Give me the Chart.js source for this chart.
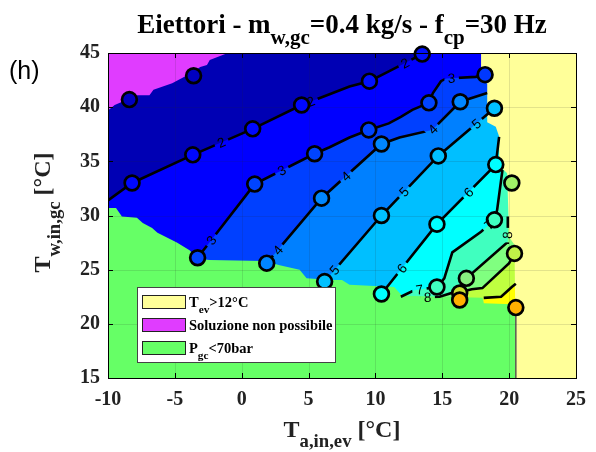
<!DOCTYPE html>
<html>
<head>
<meta charset="utf-8">
<script src="https://cdn.jsdelivr.net/npm/chart.js@4.4.0/dist/chart.umd.min.js"></script>
<style>
  body { margin: 0; background: #fff; }
</style>
</head>
<body>
<canvas id="chart" width="596" height="452"></canvas>
<script>
const X_MIN = -10, X_MAX = 25, Y_MIN = 15, Y_MAX = 45;
const xTicks = [-10, -5, 0, 5, 10, 15, 20, 25];
const yTicks = [15, 20, 25, 30, 35, 40, 45];

// iso-lines of the map, points are [T_a,in,ev, T_w,in,gc]
const iso2 = [[-10, 31.4], [-8.2, 33.0], [-3.66, 35.6], [0.82, 38.0], [4.48, 40.2], [6.57, 41.2], [8.06, 41.9], [9.55, 42.4], [11.0, 43.3], [13.5, 44.9], [13.7, 45]];
const iso3 = [[-3.3, 26.1], [0.97, 32.9], [5.45, 35.7], [6.57, 36.3], [8.06, 37.2], [9.5, 37.9], [11.0, 38.5], [11.9, 39.1], [12.76, 39.75], [14.0, 40.4], [14.3, 41.3], [14.9, 42.4], [15.3, 42.65], [17.5, 42.8], [18.2, 43.0]];
const iso4 = [[1.87, 25.6], [5.97, 31.6], [10.45, 36.6], [11.8, 37.2], [14.25, 37.9], [16.34, 40.5], [18.36, 41.3]];
const iso5 = [[6.2, 23.9], [10.45, 30.0], [14.7, 35.5], [18.9, 39.9]];
const iso6 = [[10.45, 22.75], [14.6, 29.2], [19.0, 34.7], [19.25, 37.25]];
const iso7 = [[11.9, 22.5], [12.9, 23.1], [14.6, 23.4], [15.15, 24.2], [15.75, 26.6], [17.9, 28.5], [18.9, 29.6], [19.1, 30.5], [19.5, 34.2]];
const iso8 = [[13.4, 22.45], [14.8, 22.5], [16.1, 23.0], [16.8, 24.2], [19.85, 27.5], [19.9, 29.9]];
const iso9 = [[16.6, 23.0], [17.2, 23.2], [18.0, 23.3], [20.0, 25.6], [20.4, 26.5]];
const iso10 = [[18.1, 22.4], [19.4, 22.5], [20.2, 23.4], [20.5, 23.7]];

const contourLevels = [2, 3, 4, 5, 6, 7, 8, 9, 10];
const isoLines = [iso2, iso3, iso4, iso5, iso6, iso7, iso8, iso9, iso10];
const levelColors = ['#0000B4', '#0000FF', '#0040FF', '#0080FF', '#00BFFF', '#00FFFF', '#40FFBF', '#80FF80', '#BFFF40', '#FFFF00'];

// excluded zones
const zoneGreen = [[-10, 15], [-10, 30.7], [-9.4, 30.7], [-8.96, 29.9], [-7.84, 29.8], [-7.4, 29.3], [-6.7, 28.85], [-6.3, 28.4], [-4.85, 27.5], [-3.9, 26.8], [-3.3, 26.0], [-2.4, 25.9], [1.7, 25.8], [2.84, 25.4], [4.33, 25.0], [4.85, 24.2], [6.7, 24.05], [7.5, 24.05], [8.06, 23.6], [11.4, 23.4], [12.0, 22.6], [18.0, 22.4], [18.1, 21.9], [20.2, 21.8], [20.45, 21.8], [20.45, 15]];
const zoneMagenta = [[-10, 45], [-1.04, 45], [-2.39, 44.36], [-2.6, 43.9], [-3.1, 43.7], [-4.0, 43.0], [-5.2, 42.2], [-6.6, 41.6], [-6.9, 41.1], [-7.8, 41.1], [-9.5, 40.2], [-10, 39.7]];
const zoneYellow = [[17.9, 45], [17.9, 42.3], [18.36, 42.2], [18.36, 38.6], [19.0, 38.2], [19.25, 37.3], [19.25, 34.5], [19.6, 34.2], [19.85, 33.9], [20.0, 28.0], [20.4, 27.3], [20.45, 21.8], [20.5, 15], [25, 15], [25, 45]];
const zoneEdge = [[20.5, 15], [20.5, 21.0]];

// measured operating points and their colours
const markerPts = [
  [-8.4, 40.7], [-3.6, 42.9],
  [-8.2, 33.0], [-3.66, 35.6], [0.82, 38.0], [4.48, 40.2], [9.55, 42.4], [13.5, 44.9],
  [-3.3, 26.1], [0.97, 32.9], [5.45, 35.7], [9.5, 37.9], [14.0, 40.4], [18.2, 43.0],
  [1.87, 25.6], [5.97, 31.6], [10.45, 36.6], [16.34, 40.5],
  [6.2, 23.9], [10.45, 30.0], [14.7, 35.5], [18.9, 39.9],
  [10.45, 22.75], [14.6, 29.2], [19.0, 34.7],
  [14.6, 23.4], [18.9, 29.6],
  [16.8, 24.2],
  [20.2, 33.0], [20.4, 26.5],
  [16.3, 22.85],
  [16.3, 22.2], [20.5, 21.5]
];
const markerColors = [
  '#0000C0', '#0000C0',
  '#0008FF', '#0008FF', '#0008FF', '#0008FF', '#0010FF', '#0010FF',
  '#0044FF', '#0044FF', '#0044FF', '#0044FF', '#0044FF', '#0038FF',
  '#0086FF', '#0086FF', '#0086FF', '#0086FF',
  '#00C0FF', '#00C0FF', '#00C0FF', '#00C0FF',
  '#00FFFF', '#00FFFF', '#00FFFF',
  '#40FFC0', '#40FFC0',
  '#88F080',
  '#A0F068', '#C0F048',
  '#C8E030',
  '#FFB000', '#FFB000'
];

// inline level labels: [level, T_a, T_w]
const labelSpots = [
  [2, -1.5, 36.7], [2, 5.15, 40.6], [2, 12.2, 44.1],
  [3, -2.24, 27.7], [3, 3.06, 34.0], [3, 15.7, 42.6],
  [4, 2.7, 26.8], [4, 7.8, 33.6], [4, 14.25, 38.0],
  [5, 6.9, 25.0], [5, 12.2, 32.1], [5, 17.6, 38.4],
  [6, 11.9, 25.2], [6, 17.0, 32.1],
  [7, 13.3, 23.1], [7, 18.65, 28.9],
  [8, 13.9, 22.7], [8, 19.6, 28.2]
];

const legendItems = [
  { color: '#FFFF99', parts: [['T', 0], ['ev', 1], ['>12°C', 0]] },
  { color: '#E03CFF', parts: [['Soluzione non possibile', 0]] },
  { color: '#66FF66', parts: [['P', 0], ['gc', 1], ['<70bar', 0]] }
];

const SERIF = '"Liberation Serif", "Times New Roman", serif';
const LABEL_FONT = '13.5px "Liberation Sans", Arial, sans-serif';

const xy = pts => pts.map(([x, y]) => ({ x, y }));

// area lying right of / below an iso-line, closed on the plot edges
function regionAbove(line) {
  const first = line[0], last = line[line.length - 1];
  return [[first[0], Y_MIN], ...line, [X_MAX, last[1]], [X_MAX, Y_MIN]];
}

const fillSet = (pts, color, extra) => Object.assign({
  type: 'line', data: xy(pts), fill: 'shape', backgroundColor: color,
  borderWidth: 0, pointRadius: 0, tension: 0
}, extra || {});

const datasets = [];
datasets.push(fillSet([[X_MIN, Y_MIN], [X_MIN, Y_MAX], [X_MAX, Y_MAX], [X_MAX, Y_MIN]], levelColors[0]));
isoLines.forEach((line, i) => datasets.push(fillSet(regionAbove(line), levelColors[i + 1])));
datasets.push(fillSet(zoneGreen, '#66FF66'));
datasets.push(fillSet(zoneMagenta, '#E03CFF'));
datasets.push(fillSet(zoneYellow, '#FFFF99'));
datasets.push({ type: 'line', data: xy(zoneEdge), borderColor: '#555', borderWidth: 1.5, pointRadius: 0, fill: false, role: 'lastFill' });
isoLines.forEach((line, i) => datasets.push({
  type: 'line', data: xy(line), borderColor: '#000', borderWidth: 2.6,
  pointRadius: 0, fill: false, tension: 0, level: contourLevels[i]
}));
datasets.push({
  type: 'scatter', data: xy(markerPts), pointRadius: 7.4, pointBorderWidth: 2.7,
  pointBackgroundColor: markerColors, pointBorderColor: '#000', clip: false
});
// later entries are drawn on top
datasets.forEach((d, i) => { d.order = datasets.length - i; });

// snap each label onto its line and take the local direction
function placedLabels(chart) {
  const sx = chart.scales.x, sy = chart.scales.y;
  return labelSpots.map(([level, lx, ly]) => {
    const pts = isoLines[contourLevels.indexOf(level)].map(([x, y]) => [sx.getPixelForValue(x), sy.getPixelForValue(y)]);
    const px = sx.getPixelForValue(lx), py = sy.getPixelForValue(ly);
    let best = null;
    for (let i = 0; i < pts.length - 1; i++) {
      const [ax, ay] = pts[i], [bx, by] = pts[i + 1];
      const dx = bx - ax, dy = by - ay, len2 = dx * dx + dy * dy;
      let t = len2 ? ((px - ax) * dx + (py - ay) * dy) / len2 : 0;
      t = Math.max(0, Math.min(1, t));
      const qx = ax + t * dx, qy = ay + t * dy;
      const d = (qx - px) ** 2 + (qy - py) ** 2;
      if (!best || d < best.d) best = { d, x: qx, y: qy, a: Math.atan2(dy, dx) };
    }
    let a = best.a;
    if (a > Math.PI / 2) a -= Math.PI;
    if (a < -Math.PI / 2) a += Math.PI;
    return { level, x: best.x, y: best.y, a, text: String(level) };
  });
}

function drawRich(ctx, parts, x, y, size, align, subScale, subDrop) {
  const subSize = size * (subScale || 0.78);
  const fontFor = sub => `bold ${sub ? subSize : size}px ${SERIF}`;
  let w = 0;
  for (const [t, sub] of parts) { ctx.font = fontFor(sub); w += ctx.measureText(t).width; }
  let cx = align === 'center' ? x - w / 2 : x;
  ctx.textAlign = 'left';
  ctx.textBaseline = 'alphabetic';
  for (const [t, sub] of parts) {
    ctx.font = fontFor(sub);
    ctx.fillText(t, cx, sub ? y + size * (subDrop || 0.42) : y);
    cx += ctx.measureText(t).width;
  }
}

function drawGrid(chart) {
  const { ctx, chartArea: a, scales } = chart;
  ctx.save();
  ctx.strokeStyle = 'rgba(38,38,38,0.13)';
  ctx.lineWidth = 1;
  ctx.beginPath();
  xTicks.forEach(v => {
    const x = Math.round(scales.x.getPixelForValue(v)) + 0.5;
    ctx.moveTo(x, a.top); ctx.lineTo(x, a.bottom);
  });
  yTicks.forEach(v => {
    const y = Math.round(scales.y.getPixelForValue(v)) + 0.5;
    ctx.moveTo(a.left, y); ctx.lineTo(a.right, y);
  });
  ctx.stroke();
  ctx.restore();
}

const decor = {
  id: 'decor',
  beforeDatasetDraw(chart, args) {
    const ds = chart.data.datasets[args.index];
    if (!ds.level) return;
    // cut gaps in the iso-line where its labels sit
    const ctx = chart.ctx;
    ctx.save();
    ctx.font = LABEL_FONT;
    ctx.beginPath();
    ctx.rect(0, 0, chart.width, chart.height);
    placedLabels(chart).filter(p => p.level === ds.level).forEach(p => {
      const hw = ctx.measureText(p.text).width / 2 + 3.5, hh = 7;
      const c = Math.cos(p.a), s = Math.sin(p.a);
      const corners = [[-hw, -hh], [hw, -hh], [hw, hh], [-hw, hh]]
        .map(([u, v]) => [p.x + u * c - v * s, p.y + u * s + v * c]);
      ctx.moveTo(corners[0][0], corners[0][1]);
      corners.slice(1).forEach(q => ctx.lineTo(q[0], q[1]));
      ctx.closePath();
    });
    ctx.clip('evenodd');
  },
  afterDatasetDraw(chart, args) {
    const ds = chart.data.datasets[args.index];
    if (ds.level) chart.ctx.restore();
    if (ds.role === 'lastFill') drawGrid(chart);
  },
  afterDatasetsDraw(chart) {
    const ctx = chart.ctx;
    ctx.save();
    ctx.font = LABEL_FONT;
    ctx.fillStyle = '#000';
    ctx.textAlign = 'center';
    ctx.textBaseline = 'middle';
    placedLabels(chart).forEach(p => {
      ctx.save();
      ctx.translate(p.x, p.y);
      ctx.rotate(p.a);
      ctx.fillText(p.text, 0, 1);
      ctx.restore();
    });
    ctx.restore();
  },
  afterDraw(chart) {
    const { ctx, chartArea: a, scales } = chart;
    ctx.save();
    // axes box with inward ticks
    ctx.strokeStyle = '#000';
    ctx.lineWidth = 1;
    ctx.strokeRect(Math.round(a.left) + 0.5, Math.round(a.top) + 0.5, Math.round(a.right - a.left), Math.round(a.bottom - a.top));
    ctx.beginPath();
    xTicks.forEach(v => {
      const x = Math.round(scales.x.getPixelForValue(v)) + 0.5;
      ctx.moveTo(x, a.bottom); ctx.lineTo(x, a.bottom - 5);
      ctx.moveTo(x, a.top); ctx.lineTo(x, a.top + 5);
    });
    yTicks.forEach(v => {
      const y = Math.round(scales.y.getPixelForValue(v)) + 0.5;
      ctx.moveTo(a.left, y); ctx.lineTo(a.left + 5, y);
      ctx.moveTo(a.right, y); ctx.lineTo(a.right - 5, y);
    });
    ctx.stroke();

    ctx.fillStyle = '#000';
    // title
    drawRich(ctx, [['Eiettori - m', 0], ['w,gc', 1], ['=0.4 kg/s - f', 0], ['cp', 1], ['=30 Hz', 0]],
      (a.left + a.right) / 2, 33, 27, 'center');
    // x axis title
    ctx.fillStyle = '#222';
    drawRich(ctx, [['T', 0], ['a,in,ev', 1], [' [°C]', 0]], (a.left + a.right) / 2, 437, 24, 'center');
    // y axis title
    ctx.save();
    ctx.translate(50, (a.top + a.bottom) / 2 - 3);
    ctx.rotate(-Math.PI / 2);
    drawRich(ctx, [['T', 0], ['w,in,gc', 1], [' [°C]', 0]], 0, 0, 24, 'center');
    ctx.restore();

    // panel tag
    ctx.fillStyle = '#000';
    ctx.font = '25px "Liberation Sans", Arial, sans-serif';
    ctx.textAlign = 'left';
    ctx.textBaseline = 'alphabetic';
    ctx.fillText('(h)', 9, 79);

    // legend box
    const lx = 137, ly = 287, lw = 198, lh = 75;
    ctx.fillStyle = '#fff';
    ctx.fillRect(lx, ly, lw, lh);
    ctx.strokeStyle = '#444';
    ctx.strokeRect(lx + 0.5, ly + 0.5, lw, lh);
    legendItems.forEach((item, i) => {
      const cy = ly + 14.5 + i * 23;
      ctx.fillStyle = item.color;
      ctx.fillRect(142, cy - 6.5, 43, 13);
      ctx.strokeStyle = '#222';
      ctx.strokeRect(142.5, cy - 6.5 + 0.5, 43, 13);
      ctx.fillStyle = '#000';
      drawRich(ctx, item.parts, 189, cy + 5, 14.5, 'left', 0.78, 0.42);
    });
    ctx.restore();
  }
};

const tickFont = { family: SERIF, size: 20, weight: 'bold' };

new Chart(document.getElementById('chart'), {
  type: 'scatter',
  data: { datasets },
  options: {
    responsive: false,
    animation: false,
    events: [],
    layout: { padding: { top: 53, right: 19, left: 0, bottom: 0 } },
    plugins: {
      legend: { display: false },
      tooltip: { enabled: false },
      title: { display: false }
    },
    scales: {
      x: {
        type: 'linear', min: X_MIN, max: X_MAX,
        afterBuildTicks: s => { s.ticks = xTicks.map(v => ({ value: v })); },
        afterFit: s => { s.height = 74; },
        grid: { display: false, drawTicks: false },
        border: { display: false },
        ticks: { font: tickFont, color: '#222', padding: 10, maxRotation: 0, autoSkip: false }
      },
      y: {
        type: 'linear', min: Y_MIN, max: Y_MAX,
        afterBuildTicks: s => { s.ticks = yTicks.map(v => ({ value: v })); },
        afterFit: s => { s.width = 108; },
        grid: { display: false, drawTicks: false },
        border: { display: false },
        ticks: { font: tickFont, color: '#222', padding: 8, autoSkip: false }
      }
    }
  },
  plugins: [decor]
});
</script>
</body>
</html>
